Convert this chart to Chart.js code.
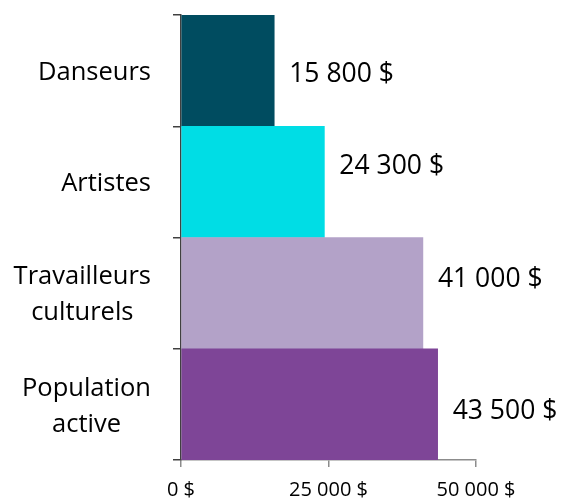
<!DOCTYPE html>
<html>
<head>
<meta charset="utf-8">
<script src="https://cdn.jsdelivr.net/npm/chart.js@4/dist/chart.umd.min.js"></script>
<style>
  html, body { margin: 0; padding: 0; background: #fff; }
  #wrap { width: 563px; height: 501px; }
</style>
</head>
<body>
<div id="wrap"><canvas id="salaryChart"></canvas></div>
<script>
const categories = [["Danseurs"], ["Artistes"], ["Travailleurs", "culturels"], ["Population", "active"]];
const incomes = [15800, 24300, 41000, 43500];
const barColors = ["#004c60", "#00dde5", "#b3a2c8", "#7e4597"];
const xTicks = [0, 25000, 50000];

const FONT = "'Open Sans', 'Noto Sans', sans-serif";

function money(v) {
  return String(v).replace(/\B(?=(\d{3})+(?!\d))/g, " ") + " $";
}

// category labels: lines centered on each other, block right-aligned to the axis
const categoryLabels = {
  id: "categoryLabels",
  afterDraw(chart, args, opts) {
    const ctx = chart.ctx;
    const y = chart.scales.y;
    ctx.save();
    ctx.font = opts.size + "px " + FONT;
    ctx.fillStyle = "#000";
    ctx.textAlign = "center";
    ctx.textBaseline = "middle";
    categories.forEach((lines, i) => {
      const w = Math.max(...lines.map(l => ctx.measureText(l).width));
      const cx = y.right - opts.gap - w / 2;
      const cy = y.getPixelForValue(i) + opts.dy;
      const top = cy - (lines.length - 1) * opts.lineHeight / 2;
      lines.forEach((l, j) => ctx.fillText(l, cx, top + j * opts.lineHeight));
    });
    ctx.restore();
  }
};

// value labels right of each bar
const valueLabels = {
  id: "valueLabels",
  afterDatasetsDraw(chart, args, opts) {
    const ctx = chart.ctx;
    const meta = chart.getDatasetMeta(0);
    ctx.save();
    ctx.font = opts.size + "px " + FONT;
    ctx.fillStyle = "#000";
    ctx.textAlign = "left";
    ctx.textBaseline = "middle";
    meta.data.forEach((bar, i) => {
      ctx.fillText(money(incomes[i]), bar.x + opts.gap, bar.y + opts.shift[i]);
    });
    ctx.restore();
  }
};

new Chart(document.getElementById("salaryChart"), {
  type: "bar",
  data: {
    labels: categories.map(c => c.join(" ")),
    datasets: [{
      data: incomes,
      backgroundColor: barColors,
      borderWidth: 0,
      barPercentage: 1,
      categoryPercentage: 1
    }]
  },
  options: {
    indexAxis: "y",
    responsive: true,
    maintainAspectRatio: false,
    animation: false,
    layout: { padding: { top: 15, right: 87, bottom: 0, left: 0 } },
    plugins: {
      legend: { display: false },
      tooltip: { enabled: false },
      categoryLabels: { size: 25.5, lineHeight: 36, gap: 30, dy: 2 },
      valueLabels: { size: 26.5, gap: 15, shift: [4, -15, -14, 7] }
    },
    scales: {
      x: {
        min: 0,
        max: 50000,
        afterBuildTicks: s => { s.ticks = xTicks.map(v => ({ value: v })); },
        afterFit: s => { s.height = 41; },
        border: { color: "#8c8c8c", width: 1.5 },
        grid: { drawOnChartArea: false, tickLength: 7, color: "#8c8c8c", lineWidth: 1.5 },
        ticks: {
          padding: 11,
          color: "#000",
          font: { family: FONT, size: 20 },
          maxRotation: 0,
          callback: v => money(v)
        }
      },
      y: {
        afterFit: s => { s.width = 181; },
        border: { color: "#404040", width: 1.5 },
        grid: { offset: true, drawOnChartArea: false, tickLength: 8, color: "#404040", lineWidth: 1.5 },
        ticks: { display: false }
      }
    }
  },
  plugins: [categoryLabels, valueLabels]
});
</script>
</body>
</html>
